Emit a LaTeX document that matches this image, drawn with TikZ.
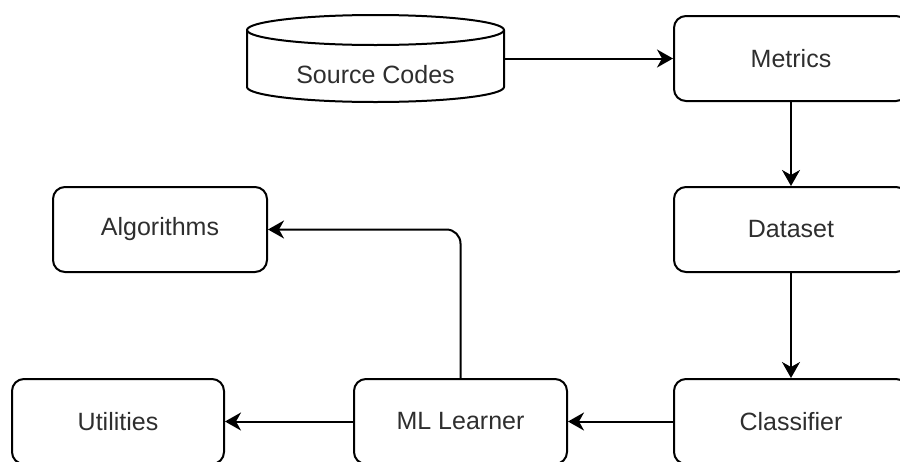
\documentclass[tikz,border=0pt]{standalone}
\usepackage{fontspec}
\setmainfont{Liberation Sans}
\usetikzlibrary{arrows.meta}
\definecolor{txt}{HTML}{2E2E2E}
\tikzset{
  box/.style={draw=black, line width=2pt, rounded corners=12pt, inner sep=0pt,
    text=txt, font=\fontsize{25}{30}\selectfont},
  arr/.style={draw=black, line width=2pt, -{Stealth[length=16pt,width=18pt,inset=5pt]}},
}
\begin{document}
\begin{tikzpicture}[x=1pt,y=-1pt]
\useasboundingbox (0,0) rectangle (900,461);
\clip (0,0) rectangle (900,461);
% cylinder
\node[inner sep=0pt, minimum width=257pt, minimum height=87pt] (src) at (375.5,58.5) {};
\draw[line width=2pt, fill=white]
  (247,30) -- (247,87) arc[start angle=180, end angle=360, x radius=128.5pt, y radius=15pt]
  -- (504,30) arc[start angle=0, end angle=180, x radius=128.5pt, y radius=15pt] -- cycle;
\draw[line width=2pt] (247,30) arc[start angle=180, end angle=360, x radius=128.5pt, y radius=15pt];
\node[text=txt, font=\fontsize{25}{30}\selectfont] (srclabel) at (375.5,75) {Source Codes};
% boxes
\node[box, minimum width=234pt, minimum height=85pt] (met) at (791,58.5) {Metrics};
\node[box, minimum width=234pt, minimum height=85pt] (ds) at (791,229.5) {Dataset};
\node[box, minimum width=234pt, minimum height=85pt] (cls) at (791,421.5) {Classifier};
\node[box, minimum width=213pt, minimum height=85pt] (ml) at (460.5,421.5) {ML Learner};
\node[box, minimum width=212pt, minimum height=85pt] (util) at (118,421.5) {Utilities};
\node[box, minimum width=214pt, minimum height=85pt] (alg) at (160,229.5) {Algorithms};
% connectors
\draw[arr] (src.east) -- (met.west);
\draw[arr] (met.south) -- (ds.north);
\draw[arr] (ds.south) -- (cls.north);
\draw[arr] (cls.west) -- (ml.east);
\draw[arr] (ml.west) -- (util.east);
\draw[arr, rounded corners=14pt] (ml.north) |- (alg.east);
\end{tikzpicture}
\end{document}
